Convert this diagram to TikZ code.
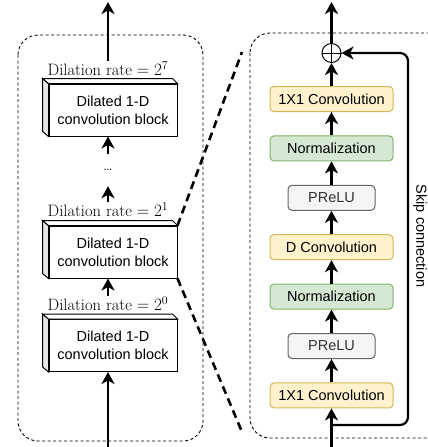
\documentclass[tikz,border=0pt]{standalone}
\usepackage{amsmath}
\usepackage{fontspec}
\setsansfont{Liberation Sans}
\usetikzlibrary{arrows.meta,calc}
\definecolor{ConvFill}{HTML}{FFF2CC}
\definecolor{ConvDraw}{HTML}{D6B656}
\definecolor{NormFill}{HTML}{D5E8D4}
\definecolor{NormDraw}{HTML}{82B366}
\definecolor{ActFill}{HTML}{F5F5F5}
\definecolor{ActDraw}{HTML}{666666}
\definecolor{ActText}{HTML}{333333}
\tikzset{
  flow/.style={line width=2.2pt, -{Stealth[length=12pt,width=13pt,inset=3.5pt]}},
  blocktext/.style={font=\sffamily\fontsize{14.5}{18}\selectfont},
  convblock/.style={blocktext, draw, line width=1pt, fill=white, minimum width=128pt, minimum height=52pt, align=center},
  layer/.style={blocktext, draw, line width=1pt, rounded corners=4pt, minimum height=25pt, inner sep=0pt},
  conv/.style={layer, fill=ConvFill, draw=ConvDraw, minimum width=123pt},
  norm/.style={layer, fill=NormFill, draw=NormDraw, minimum width=123pt},
  act/.style={layer, fill=ActFill, draw=ActDraw, text=ActText, minimum width=87pt},
  rate/.style={font=\fontsize{16.5}{19}\selectfont, inner sep=1pt},
  frame/.style={draw, line width=0.9pt, dash pattern=on 3pt off 2.5pt, rounded corners=20pt},
  zoomline/.style={line width=2.6pt, dash pattern=on 8pt off 5pt},
}
% side and top faces of a 3-D block
\newcommand{\blockfaces}[1]{
  \draw[line width=1pt, fill=gray!20] (#1.north west) -- ++(-6,-5) -- ($(#1.south west)+(-6,-5)$) -- (#1.south west) -- cycle;
  \draw[line width=1pt, fill=white] (#1.north west) -- ++(-6,-5) -- ($(#1.north east)+(-5,-5)$) -- (#1.north east) -- cycle;
}

\begin{document}
\begin{tikzpicture}[x=1pt,y=-1pt]
        % Define the positions of both columns
        \def\leftx{108}
        \def\rightx{331.5}
        \def\layergap{49.4}

        \useasboundingbox (0,0) rectangle (428,447);
        \clip (0,0) rectangle (428,447);

        % Draw the two dashed frames
        \draw[frame] (18,35) rectangle (203,441);
        \draw[frame] (250,33) rectangle (450,438);

        % Stack of dilated blocks
        \node[convblock] (blkC) at (113,110) {Dilated 1-D\\convolution block};
        \node[convblock] (blkB) at (113,252) {Dilated 1-D\\convolution block};
        \node[convblock] (blkA) at (113,345.5) {Dilated 1-D\\convolution block};
        \foreach \b in {blkA, blkB, blkC} {
            \blockfaces{\b}
        }

        \node[rate] (rateC) at (\leftx,69) {$\text{Dilation rate}=2^{7}$};
        \node[rate] (rateB) at (\leftx,210) {$\text{Dilation rate}=2^{1}$};
        \node[rate] (rateA) at (\leftx,304) {$\text{Dilation rate}=2^{0}$};
        \node[rate, minimum height=32pt] (dots) at (\leftx,170) {\ldots};

        \coordinate (outL) at (\leftx,2);
        \coordinate (inL) at (\leftx,447);
        \draw[flow] (inL) -- (inL |- blkA.south);
        \draw[flow] (rateA.north) -- (rateA.north |- blkB.south);
        \draw[flow] (rateB.north) -- (dots.south);
        \draw[flow] (dots.north) -- (dots.north |- blkC.south);
        \draw[flow] (rateC.north) -- (outL);

        % Zoom lines to the inner view of a block
        \coordinate (zoomTop) at (242,52);
        \coordinate (zoomBot) at (242,432);
        \draw[zoomline] (blkB.north east) -- (zoomTop);
        \draw[zoomline] (blkB.south east) -- (zoomBot);

        % Layers inside one block
        \foreach \n/\t/\s [count=\i from 0] in {convTop/1X1 Convolution/conv, normTop/Normalization/norm, actTop/PReLU/act, dconv/D Convolution/conv, normBot/Normalization/norm, actBot/PReLU/act, convBot/1X1 Convolution/conv} {
            \node[\s] (\n) at (\rightx, 99+\layergap*\i) {\t};
        }
        \foreach \a/\b in {convBot/actBot, actBot/normBot, normBot/dconv, dconv/actTop, actTop/normTop, normTop/convTop} {
            \draw[flow] (\a) -- (\b);
        }

        \node[draw, circle, line width=1pt, minimum size=19pt, inner sep=0pt] (sum) at (\rightx,53) {};
        \draw[line width=1pt] (sum.north) -- (sum.south) (sum.west) -- (sum.east);
        \draw[flow] (convTop) -- (sum);

        \coordinate (outR) at (\rightx,2);
        \coordinate (inR) at (\rightx,447);
        \draw[flow] (sum) -- (outR);
        \draw[flow] (inR) -- (convBot);

        % Skip connection
        \coordinate (tap) at (\rightx,425);
        \coordinate (skipTurn) at (408,53);
        \draw[flow, rounded corners=8pt] (tap) -| (skipTurn) -- (sum);
        \node[blocktext, rotate=-90] (skipLabel) at (420,236) {Skip connection};
\end{tikzpicture}
\end{document}
